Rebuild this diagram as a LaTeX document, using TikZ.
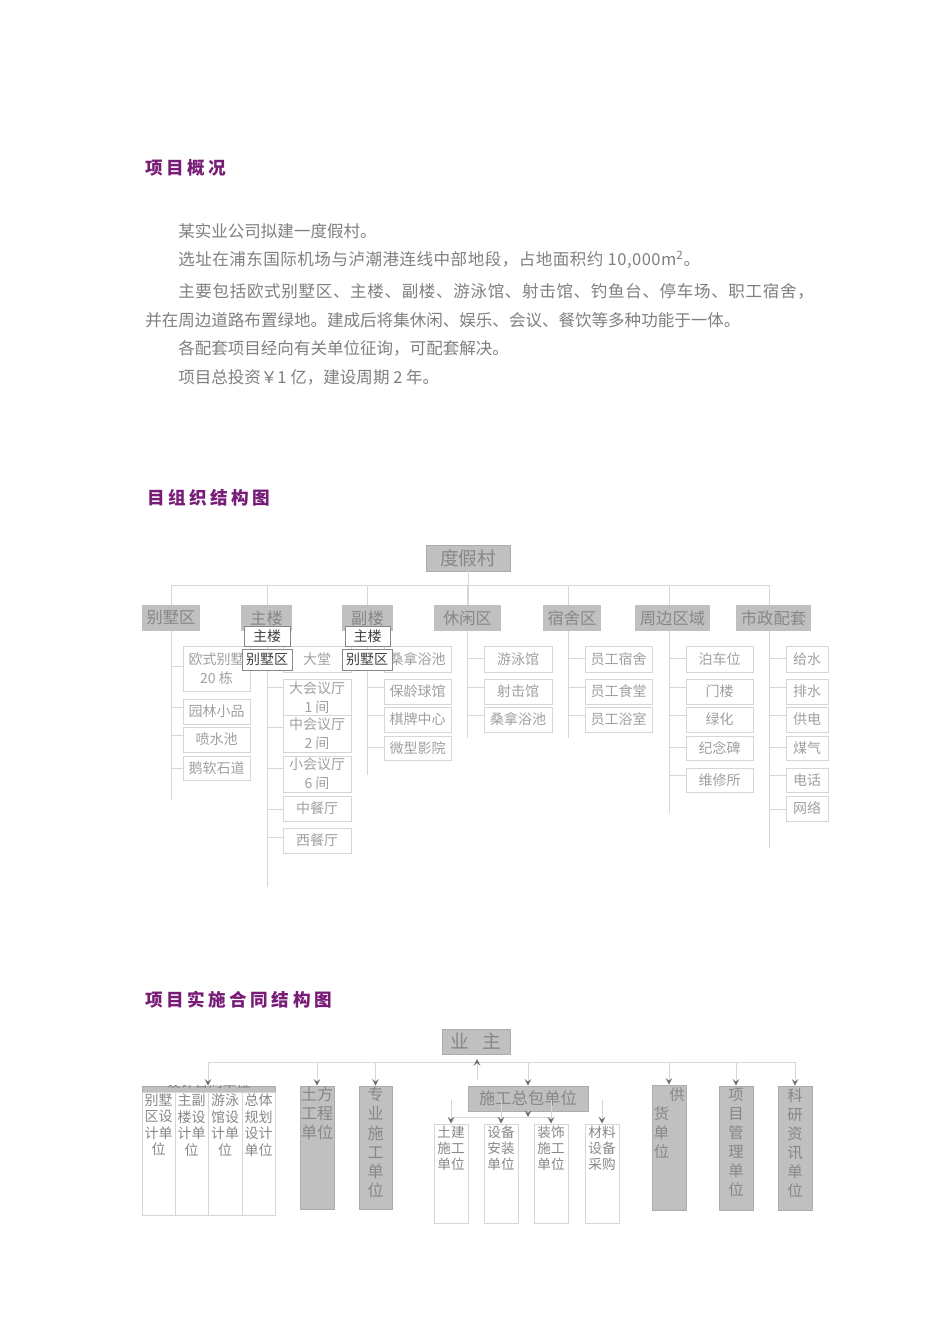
\documentclass[tikz,border=0pt]{standalone}
\usepackage{fontspec}
\setmainfont{Noto Sans CJK SC}
\usetikzlibrary{positioning,arrows.meta}

\definecolor{titlepurple}{RGB}{120,28,120}
\definecolor{bodygray}{RGB}{128,128,128}
\definecolor{boxgray}{RGB}{192,192,192}
\definecolor{edgegray}{RGB}{172,172,172}
\definecolor{linegray}{RGB}{214,214,214}
\definecolor{leafgray}{RGB}{160,160,160}
\definecolor{labelgray}{RGB}{135,135,135}
\definecolor{tipgray}{RGB}{110,110,110}

% box from its corners in page pixels
\newcommand{\orgbox}[7]{%
  \pgfmathsetmacro{\orgw}{(#5-#3)*0.75}%
  \pgfmathsetmacro{\orgh}{(#6-#4)*0.75}%
  \node[#1,minimum width=\orgw pt,minimum height=\orgh pt] (#2) at ({(#3+#5)/2},{(#4+#6)/2}) {#7};}

\tikzset{
  title/.style={anchor=west,inner sep=0pt,text=titlepurple,
    font=\fontsize{13.2}{15}\selectfont\bfseries\addfontfeature{LetterSpace=20}},
  body/.style={anchor=west,inner sep=0pt,text=bodygray,font=\fontsize{12.4}{14}\selectfont},
  top/.style={fill=boxgray,draw=edgegray,line width=0.5pt,inner sep=0pt,text=labelgray,font=\fontsize{14}{16}\selectfont},
  zone/.style={fill=boxgray,inner sep=0pt,text=labelgray,font=\fontsize{12.2}{14}\selectfont},
  leaf/.style={draw=linegray,fill=white,line width=0.75pt,inner sep=0pt,align=center,text=leafgray,font=\fontsize{10.5}{14}\selectfont},
  tag/.style={draw=labelgray,fill=white,line width=0.75pt,inner sep=0pt,text=black!75,font=\fontsize{10.5}{12}\selectfont},
  col/.style={draw=linegray,line width=0.75pt,inner sep=0pt},
  unit/.style={fill=boxgray,draw=edgegray,line width=0.5pt,inner sep=0pt},
  unitlabel/.style={unit,text=labelgray,font=\fontsize{12.2}{14}\selectfont},
  coltext/.style={inner sep=0pt,align=center,text=leafgray!85!black,font=\fontsize{10.5}{12.4}\selectfont},
  unittext/.style={inner sep=0pt,align=center,text=labelgray,font=\fontsize{11.5}{14.2}\selectfont},
  link/.style={draw=linegray,line width=0.75pt},
  arr/.style={link,-{Stealth[length=5pt,width=5pt,inset=2pt,color=tipgray]}}
}

\begin{document}
\begin{tikzpicture}[x=0.75pt,y=-0.75pt]
\useasboundingbox[fill=white] (0,0) rectangle (950,1344);

\node[title] (h1) at (145,168) {项目概况};
\node[body] (p1) at (178,231) {某实业公司拟建一度假村。};
\node[body] (p2) at (178,260) {\addfontfeature{LetterSpace=3}选址在浦东国际机场与泸潮港连线中部地段，占地面积约 10,000m\textsuperscript{2}。};
\node[body] (p3) at (178,291) {\addfontfeature{LetterSpace=4}主要包括欧式别墅区、主楼、副楼、游泳馆、射击馆、钓鱼台、停车场、职工宿舍，};
\node[body] (p4) at (145,320) {并在周边道路布置绿地。建成后将集休闲、娱乐、会议、餐饮等多种功能于一体。};
\node[body] (p5) at (178,348) {各配套项目经向有关单位征询，可配套解决。};
\node[body] (p6) at (178,377) {项目总投资￥1 亿，建设周期 2 年。};

\node[title] (h2) at (147,498) {目组织结构图};
\orgbox{top}{root}{426}{545}{510}{571}{度假村}
\foreach \i/\xa/\xb/\tx/\txt in {1/142/200/171/别墅区, 2/241/292/267/主楼, 3/342/393/367/副楼,
    4/434/501/467/休闲区, 5/543/601/568/宿舍区, 6/635/710/669/周边区域, 7/736/811/769/市政配套}{
  \orgbox{zone}{z\i}{\xa}{605}{\xb}{631}{\txt}
  \coordinate (t\i) at (\tx,585);
  \draw[link] (t\i) -- (t\i |- z\i.north);
}
\draw[link] (t1) -- (t7);
\draw[link] (root.south) -- (root.south |- z4.north);
\foreach \i/\yy in {1/800,2/887,3/775,4/738,5/738,6/813,7/848}
  \draw[link] (t\i |- z\i.south) -- (t\i |- 0,\yy);

\foreach \nm/\ya/\yb/\yl/\txt in {a1/646/691/666/{欧式别墅\\20 栋}, a2/699/724/707/园林小品,
    a3/727/752/735/喷水池, a4/756/780/768/鹅软石道}{
  \orgbox{leaf}{\nm}{183}{\ya}{250}{\yb}{\txt}
  \draw[link] (t1 |- 0,\yl) -- (\nm.west |- 0,\yl);
}
\foreach \nm/\ya/\yb/\yl/\txt in {b1/646/672/658/大堂, b2/679/716/687/{大会议厅\\1 间},
    b3/715/752/727/{中会议厅\\2 间}, b4/756/792/768/{小会议厅\\6 间}, b5/796/821/809/中餐厅, b6/828/853/837/西餐厅}{
  \orgbox{leaf}{\nm}{283}{\ya}{351}{\yb}{\txt}
  \draw[link] (t2 |- 0,\yl) -- (\nm.west |- 0,\yl);
}
\foreach \nm/\ya/\yb/\yl/\txt in {c1/646/672/658/桑拿浴池, c2/679/704/687/保龄球馆,
    c3/707/732/715/棋牌中心, c4/736/760/747/微型影院}{
  \orgbox{leaf}{\nm}{384}{\ya}{451}{\yb}{\txt}
  \draw[link] (t3 |- 0,\yl) -- (\nm.west |- 0,\yl);
}
\foreach \nm/\ya/\yb/\yl/\txt in {d1/646/672/658/游泳馆, d2/679/704/687/射击馆, d3/707/732/715/桑拿浴池}{
  \orgbox{leaf}{\nm}{484}{\ya}{552}{\yb}{\txt}
  \draw[link] (t4 |- 0,\yl) -- (\nm.west |- 0,\yl);
}
\foreach \nm/\ya/\yb/\yl/\txt in {e1/646/672/658/员工宿舍, e2/679/704/687/员工食堂, e3/707/732/715/员工浴室}{
  \orgbox{leaf}{\nm}{585}{\ya}{652}{\yb}{\txt}
  \draw[link] (t5 |- 0,\yl) -- (\nm.west |- 0,\yl);
}
\foreach \nm/\ya/\yb/\yl/\txt in {f1/646/672/658/泊车位, f2/679/704/687/门楼, f3/707/732/715/绿化,
    f4/736/760/747/纪念碑, f5/768/792/775/维修所}{
  \orgbox{leaf}{\nm}{686}{\ya}{753}{\yb}{\txt}
  \draw[link] (t6 |- 0,\yl) -- (\nm.west |- 0,\yl);
}
\foreach \nm/\ya/\yb/\yl/\txt in {g1/646/672/658/给水, g2/679/704/687/排水, g3/707/732/715/供电,
    g4/736/760/747/煤气, g5/768/792/775/电话, g6/796/821/809/网络}{
  \orgbox{leaf}{\nm}{786}{\ya}{828}{\yb}{\txt}
  \draw[link] (t7 |- 0,\yl) -- (\nm.west |- 0,\yl);
}
\orgbox{tag}{tga}{244}{626}{290}{646}{主楼}
\orgbox{tag}{tgb}{242}{649}{292}{670}{别墅区}
\orgbox{tag}{tgc}{345}{626}{390}{646}{主楼}
\orgbox{tag}{tgd}{342}{649}{392}{670}{别墅区}

\node[title] (h3) at (145,1000) {项目实施合同结构图};
\orgbox{top}{owner}{442}{1029}{510}{1054}{业\hspace{0.7em}主}
\orgbox{unit}{dband}{142}{1086}{275}{1092}{}
\begin{scope}
  \clip (dband.north west) rectangle (dband.south east);
  \node[coltext,text=labelgray] (dbt) at ([yshift=5pt]dband.center) {设计合同单位};
\end{scope}
\foreach \i/\xa/\xb/\txt in {1/142/175/{别墅\\区设\\计单\\位}, 2/175/208/{主副\\楼设\\计单\\位},
    3/208/242/{游泳\\馆设\\计单\\位}, 4/242/275/{总体\\规划\\设计\\单位}}{
  \orgbox{col}{dc\i}{\xa}{1092}{\xb}{1215}{}
  \node[coltext,below=1.5pt of dc\i.north] (dt\i) {\txt};
}
\orgbox{unit}{tf}{300}{1086}{334}{1209}{}
\node[unittext,align=left,font=\fontsize{12}{14.2}\selectfont,below=1pt of tf.north] (tft) {土方\\工程\\单位};
\orgbox{unit}{zy}{359}{1086}{392}{1209}{}
\node[unittext,font=\fontsize{12}{14.4}\selectfont,below=1pt of zy.north] (zyt) {专\\业\\施\\工\\单\\位};
\orgbox{unitlabel}{sg}{468}{1086}{588}{1111}{施工总包单位}
\orgbox{unit}{gh}{652}{1085}{686}{1210}{}
\node[unittext,align=left,below right=2pt and 1.5pt of gh.north west] (ght) {\hspace*{1em}供\\货\\单\\位};
\orgbox{unit}{xm}{719}{1086}{753}{1210}{}
\node[unittext,below=2pt of xm.north] (xmt) {项\\目\\管\\理\\单\\位};
\orgbox{unit}{ky}{778}{1086}{812}{1210}{}
\node[unittext,below=2pt of ky.north] (kyt) {科\\研\\资\\讯\\单\\位};

\coordinate (bl) at (208,1062);
\coordinate (br) at (ky.north |- bl);
\draw[link] (bl) -- (br);
\draw[arr] (bl) -- (bl |- dband.north);
\foreach \nm in {tf,zy,sg,gh,xm,ky}
  \draw[arr] (\nm.north |- bl) -- (\nm.north);
\draw[arr,shorten <=4.5pt,shorten >=3.5pt] (sg.north -| 477,0) -- (owner.south -| 477,0);

\coordinate (sl) at (451,1117);
\coordinate (sr) at (551,1117);
\draw[link] (sl) -- (sr);
\draw[arr] (sg.south) -- (sg.south |- sl);
\foreach \i/\xa/\xb/\txt in {1/434/468/{土建\\施工\\单位}, 2/484/518/{设备\\安装\\单位},
    3/534/568/{装饰\\施工\\单位}, 4/585/619/{材料\\设备\\采购}}{
  \orgbox{col}{sb\i}{\xa}{1124}{\xb}{1223}{}
  \node[coltext,font=\fontsize{10.2}{12}\selectfont,below=2pt of sb\i.north] (st\i) {\txt};
  \draw[arr] (sb\i.north |- 0,1100) -- (sb\i.north);
}
\end{tikzpicture}
\end{document}
